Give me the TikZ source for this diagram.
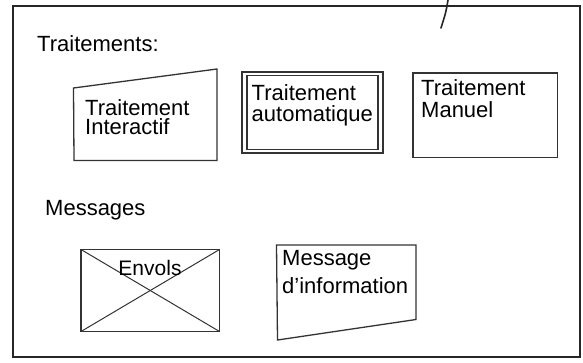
\documentclass[tikz,border=0pt]{standalone}
\usepackage{fontspec}
\setmainfont{Liberation Sans}
\begin{document}
\begin{tikzpicture}[x=1pt, y=-1pt,
  frame/.style={draw=black!85, line width=2pt},
  shapeline/.style={draw=black!80, line width=1.3pt},
  boxlabel/.style={font=\fontsize{22}{20}\selectfont, text=black,
    inner sep=0pt, anchor=base west, align=left},
  heading/.style={boxlabel},
]
\useasboundingbox (0,0) rectangle (583,362);

% outer frame and pen stroke
\draw[frame] (12.5,5.5) rectangle (580,357);
\coordinate (strokeA) at (448,0);
\coordinate (strokeB) at (441,28);
\draw[draw=black!85, line width=1.6pt, line cap=round]
  (strokeA) .. controls (446,12) .. (strokeB);

% section headings
\node[heading] (trt) at (37,51) {Traitements:};
\node[heading] (msg) at (45,215) {Messages};

% interactive processing: slanted top
\coordinate (i1) at (73.5,88);
\coordinate (i2) at (217,69);
\coordinate (i3) at (217,160.5);
\coordinate (i4) at (74,160.5);
\draw[shapeline] (i1) -- (i2) -- (i3) -- (i4) -- cycle;
\node[boxlabel] (inter) at (85,134.5) {Traitement\\[-1pt]Interactif};

% automatic processing: double frame
\draw[shapeline] (242,72) rectangle (383,153);
\draw[shapeline] (247,75.5) rectangle (378,149.5);
\node[boxlabel] (auto) at (251.5,121) {Traitement\\[1pt]automatique};

% manual processing
\draw[shapeline] (413,73) rectangle (557.5,157.5);
\node[boxlabel] (manu) at (421,117) {Traitement\\[2pt]Manuel};

% sendings: crossed rectangle
\coordinate (e1) at (81,249.5);
\coordinate (e2) at (219.5,249.5);
\coordinate (e3) at (219.5,331.5);
\coordinate (e4) at (81,331.5);
\draw[shapeline] (e1) rectangle (e3);
\draw[shapeline, line width=1pt] (e1) -- (e3);
\draw[shapeline, line width=1pt] (e2) -- (e4);
\node[font=\fontsize{21}{21}\selectfont, text=black, inner sep=0pt,
  anchor=base] (envols) at (150,275) {Envols};

% information message: slanted bottom
\coordinate (m1) at (276.5,245);
\coordinate (m2) at (416,245);
\coordinate (m3) at (416,319.5);
\coordinate (m4) at (277.5,340);
\draw[shapeline] (m1) -- (m2) -- (m3) -- (m4) -- cycle;
\node[boxlabel] (info) at (282,293) {Message\\[6pt]d'information};
\end{tikzpicture}
\end{document}
